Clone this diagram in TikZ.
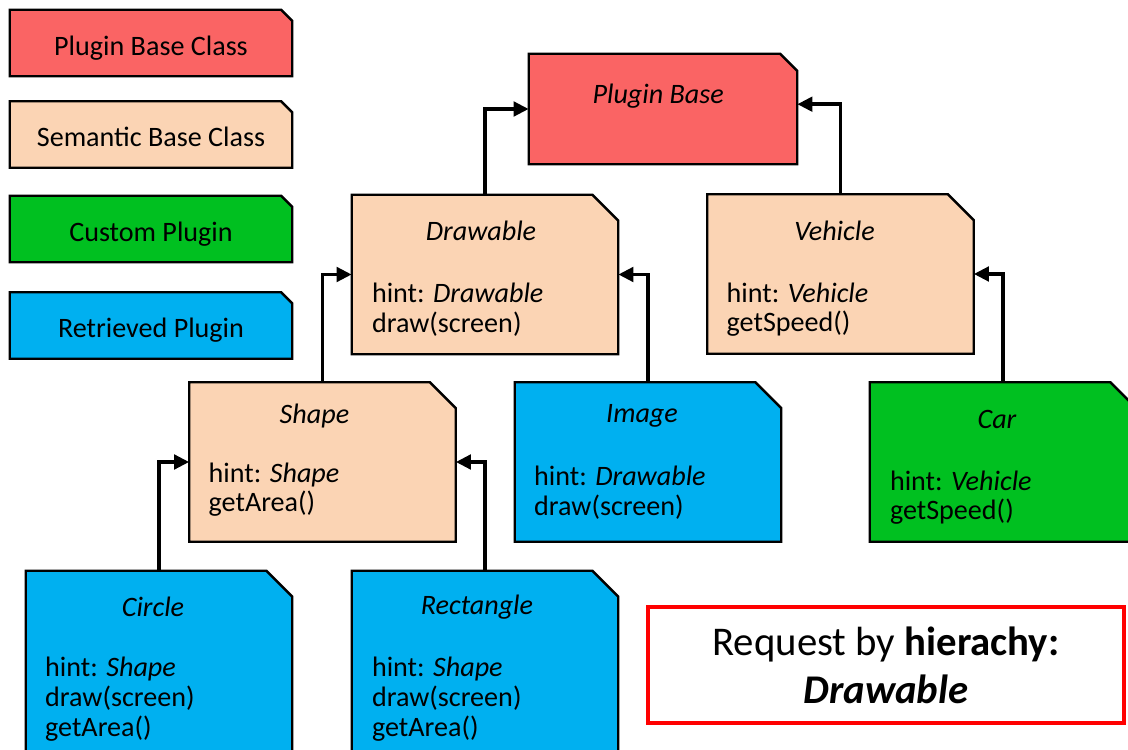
\documentclass[tikz,border=0pt]{standalone}
\usepackage{fontspec}
\setmainfont{Carlito}
\usepackage{xcolor}
\usepackage{tikz}
\usetikzlibrary{arrows.meta, positioning, backgrounds}

\definecolor{basered}{RGB}{250,100,100}
\definecolor{semantic}{RGB}{251,212,180}
\definecolor{custom}{RGB}{0,192,32}
\definecolor{retrieved}{RGB}{0,176,240}

\tikzset{
	plugbox/.style={rectangle, inner sep=0pt, minimum width=6.65cm, minimum height=3.975cm},
	legendbox/.style={plugbox, minimum width=7.05cm, minimum height=1.65cm,
		text height=0.62cm, text depth=0pt},
	boxline/.style={draw=black, line width=1.7pt, line join=miter},
	boxtitle/.style={font=\fontsize{20}{21.3}\selectfont\itshape},
	boxtext/.style={anchor=north west, align=left, inner sep=0pt},
	wire/.style={line width=2.7pt, -{Triangle[length=0.38cm, width=0.36cm]}}
}

% box outline with cut top right corner: node, fill, cut
\newcommand{\plugshape}[3]{%
	\begin{scope}[on background layer]
		\draw[boxline, fill=#2] (#1.north west) -- ([xshift=-#3]#1.north east)
			-- ([yshift=-#3]#1.north east) -- (#1.south east) -- (#1.south west) -- cycle;
	\end{scope}}

\begin{document}
\begin{tikzpicture}[font=\fontsize{20}{21.3}\selectfont]
		\useasboundingbox (0,0) rectangle (28.2,18.725);
		\clip (0,0) rectangle (28.2,18.725);
		% Legend:
		\node[legendbox](L1) at (3.775, 17.65){Plugin Base Class};
		\node[legendbox](L2) at (3.775, 15.3625){Semantic Base Class};
		\node[legendbox](L3) at (3.775, 13.0){Custom Plugin};
		\node[legendbox](L4) at (3.775, 10.5875){Retrieved Plugin};
		\plugshape{L1}{basered}{0.28cm}
		\plugshape{L2}{semantic}{0.28cm}
		\plugshape{L3}{custom}{0.28cm}
		\plugshape{L4}{retrieved}{0.28cm}
		% Classes:
		\node[plugbox, minimum width=6.7cm, minimum height=2.75cm](base) at (16.575, 16.0){};
		\node[boxtitle](baseT) at ([xshift=-0.12cm, yshift=-1.05cm]base.north){Plugin Base};
		\node[plugbox](drawable) at (12.125, 11.8625){};
		\node[boxtitle](drawableT) at ([xshift=-0.1cm, yshift=-0.9cm]drawable.north){Drawable};
		\node[boxtext](drawableB) at ([xshift=0.5cm, yshift=-2.2cm]drawable.north west){hint: \textit{Drawable}\\draw(screen)};
		\node[plugbox](vehicle) at (21.0125, 11.875){};
		\node[boxtitle](vehicleT) at ([xshift=-0.15cm, yshift=-0.92cm]vehicle.north){Vehicle};
		\node[boxtext](vehicleB) at ([xshift=0.48cm, yshift=-2.2cm]vehicle.north west){hint: \textit{Vehicle}\\getSpeed()};
		\node[plugbox](shape) at (8.0625, 7.175){};
		\node[boxtitle](shapeT) at ([xshift=-0.2cm, yshift=-0.85cm]shape.north){Shape};
		\node[boxtext](shapeB) at ([xshift=0.48cm, yshift=-2.0cm]shape.north west){hint: \textit{Shape}\\getArea()};
		\node[plugbox](image) at (16.2, 7.175){};
		\node[boxtitle](imageT) at ([xshift=-0.15cm, yshift=-0.85cm]image.north){Image};
		\node[boxtext](imageB) at ([xshift=0.48cm, yshift=-2.08cm]image.north west){hint: \textit{Drawable}\\draw(screen)};
		\node[plugbox](car) at (25.075, 7.175){};
		\node[boxtitle](carT) at ([xshift=-0.15cm, yshift=-0.92cm]car.north){Car};
		\node[boxtext](carB) at ([xshift=0.5cm, yshift=-2.2cm]car.north west){hint: \textit{Vehicle}\\getSpeed()};
		\node[plugbox, minimum height=5cm](circle) at (3.975, 1.95){};
		\node[boxtitle](circleT) at ([xshift=-0.15cm, yshift=-0.9cm]circle.north){Circle};
		\node[boxtext](circleB) at ([xshift=0.48cm, yshift=-2.15cm]circle.north west){hint: \textit{Shape}\\draw(screen)\\getArea()};
		\node[plugbox, minimum height=5cm](rect) at (12.125, 1.95){};
		\node[boxtitle](rectT) at ([xshift=-0.2cm, yshift=-0.9cm]rect.north){Rectangle};
		\node[boxtext](rectB) at ([xshift=0.5cm, yshift=-2.15cm]rect.north west){hint: \textit{Shape}\\draw(screen)\\getArea()};
		\plugshape{base}{basered}{0.43cm}
		\plugshape{drawable}{semantic}{0.65cm}
		\plugshape{vehicle}{semantic}{0.65cm}
		\plugshape{shape}{semantic}{0.65cm}
		\plugshape{image}{retrieved}{0.65cm}
		\plugshape{car}{custom}{0.65cm}
		\plugshape{circle}{retrieved}{0.65cm}
		\plugshape{rect}{retrieved}{0.65cm}
		% Request:
		\node[draw=red, line width=2.8pt, minimum width=11.9cm, minimum height=2.9cm, align=center, font=\fontsize{29}{34}\selectfont](req) at (22.15, 2.1){Request by \textbf{hierachy:}\\\textbf{\textit{Drawable}}};
		% Wires:
		\draw[wire] (drawable.north) |- (base.west);
		\draw[wire] (vehicle.north) |- ([yshift=0.12cm]base.east);
		\draw[wire] (shape.north) |- (drawable.west);
		\draw[wire] (image.north) |- (drawable.east);
		\draw[wire] (car.north) |- (vehicle.east);
		\draw[wire] (circle.north) |- (shape.west);
		\draw[wire] (rect.north) |- (shape.east);
	\end{tikzpicture}
\end{document}
